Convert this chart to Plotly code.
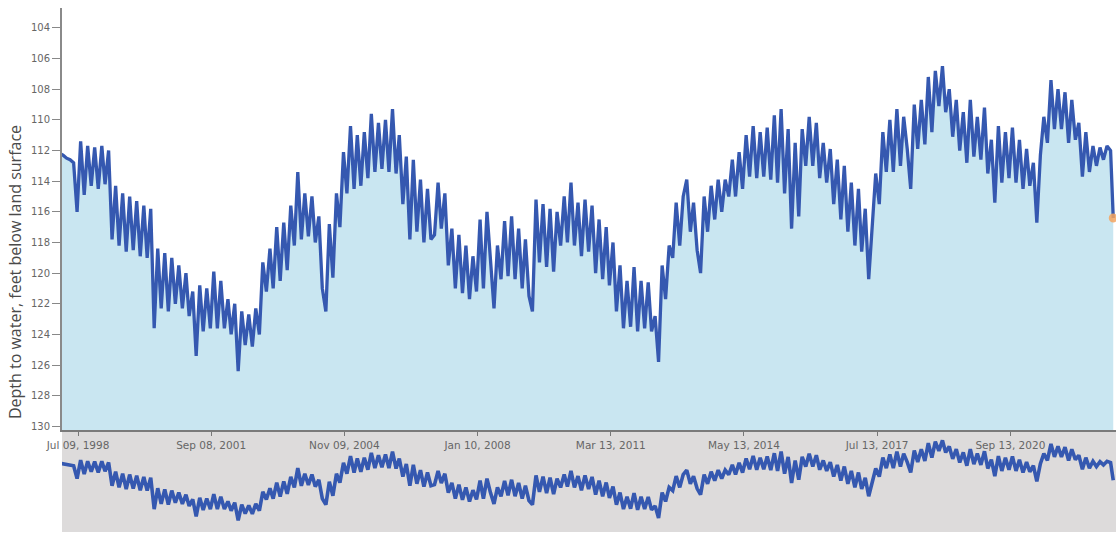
import pandas as pd
import plotly.graph_objects as go

# Monthly depth to water (feet below land surface), Feb 1998 .. Feb 2023
depth_ft = [
    # 1998 (Feb-Dec)
    112.2, 112.3, 112.5, 112.6, 112.8, 116.0, 111.4, 114.9, 111.7, 114.3, 111.8,
    # 1999
    114.5, 111.7, 114.2, 112.0, 117.8, 114.3, 118.2, 114.8, 118.6, 115.0, 118.5, 115.3,
    # 2000
    118.9, 115.6, 119.0, 115.8, 123.6, 118.4, 122.3, 118.7, 122.5, 119.0, 122.0, 119.5,
    # 2001
    122.3, 120.0, 122.8, 121.2, 125.4, 120.8, 123.8, 121.0, 123.6, 119.9, 123.6, 120.5,
    # 2002
    123.6, 121.7, 124.0, 122.0, 126.4, 122.5, 124.7, 122.7, 124.8, 122.3, 124.0, 119.3,
    # 2003
    121.2, 118.4, 121.0, 117.0, 120.5, 116.7, 119.8, 115.6, 118.2, 113.4, 117.8, 114.8,
    # 2004
    117.6, 115.0, 118.0, 116.3, 121.0, 122.5, 116.8, 120.3, 114.8, 117.0, 112.1, 114.8,
    # 2005
    110.4, 114.5, 111.0, 114.3, 110.8, 113.8, 109.6, 113.4, 110.2, 113.2, 110.0, 113.4,
    # 2006
    109.3, 113.5, 111.0, 115.5, 112.4, 117.8, 112.6, 117.3, 113.9, 118.0, 114.5, 117.8,
    # 2007
    117.5, 114.1, 117.1, 114.8, 119.5, 117.1, 121.0, 117.5, 121.3, 118.2, 121.7, 118.9,
    # 2008
    121.2, 116.5, 121.0, 116.0, 119.5, 122.3, 118.2, 120.4, 116.6, 120.2, 116.3, 120.4,
    # 2009
    117.1, 121.0, 117.8, 121.5, 122.5, 115.2, 119.3, 115.5, 119.6, 115.8, 119.9, 116.0,
    # 2010
    118.2, 115.0, 118.0, 114.1, 118.2, 115.4, 118.9, 115.2, 118.6, 115.6, 120.0, 116.5,
    # 2011
    120.4, 117.0, 120.8, 118.0, 122.5, 119.5, 123.6, 120.5, 123.5, 119.6, 123.8, 120.5,
    # 2012
    123.6, 120.6, 123.8, 122.8, 125.8, 119.5, 121.7, 118.2, 119.0, 115.4, 118.2, 115.0,
    # 2013
    113.9, 117.3, 115.4, 118.5, 120.0, 115.0, 117.3, 114.3, 116.5, 113.9, 116.0, 113.9,
    # 2014
    115.0, 112.6, 115.0, 112.1, 114.5, 111.0, 113.7, 110.4, 113.8, 110.8, 113.7, 110.5,
    # 2015
    113.9, 109.7, 114.1, 109.3, 114.8, 110.6, 117.1, 111.5, 116.3, 110.6, 113.0, 109.8,
    # 2016
    113.0, 110.2, 113.8, 111.5, 114.1, 111.9, 115.5, 112.6, 116.5, 113.0, 117.3, 114.1,
    # 2017
    118.2, 114.5, 118.6, 115.8, 120.4, 116.7, 113.5, 115.5, 110.8, 113.4, 110.0, 113.4,
    # 2018
    109.3, 113.0, 109.8, 111.9, 114.5, 109.0, 111.9, 108.7, 111.6, 107.2, 110.8, 106.8,
    # 2019
    109.1, 106.5, 109.5, 108.0, 111.1, 108.7, 112.0, 109.5, 112.8, 108.7, 112.4, 109.8,
    # 2020
    112.6, 109.2, 113.5, 111.3, 115.4, 110.4, 114.1, 110.8, 113.8, 110.5, 114.1, 111.3,
    # 2021
    114.5, 111.9, 114.3, 112.8, 116.7, 112.3, 109.8, 111.5, 107.4, 110.6, 108.0, 110.6,
    # 2022
    108.2, 111.5, 108.7, 111.3, 110.2, 113.7, 110.8, 113.4, 111.7, 113.0, 111.8, 112.6,
    # 2023 (Jan-Feb)
    111.7, 112.0,
]
months = pd.date_range("1998-02-01", periods=len(depth_ft), freq="MS")

last_date = "2023-02-24"
last_depth = 116.4

tick_dates = ["1998-07-09", "2001-09-08", "2004-11-09", "2008-01-10",
              "2011-03-13", "2014-05-13", "2017-07-13", "2020-09-13"]
y_ticks = list(range(104, 131, 2))

x_range = ["1998-02-20", "2023-03-20"]
y_range_main = [130.26, 102.7]
y_range_mini = [129.3, 104.0]
fill_floor = 131.0

dates_all = [d.strftime("%Y-%m-%d") for d in months] + [last_date]
depth_all = depth_ft + [last_depth]

LINE = "#3558b0"
FILL = "#c9e6f1"
GREY = "#dddbdb"

fig = go.Figure()
# baseline for the area fill (bottom of the chart)
fig.add_trace(go.Scatter(x=[dates_all[0], dates_all[-1]], y=[fill_floor, fill_floor],
                         mode="lines", line=dict(width=0, color=FILL),
                         hoverinfo="skip", showlegend=False, xaxis="x", yaxis="y"))
fig.add_trace(go.Scatter(x=dates_all, y=depth_all, mode="lines",
                         line=dict(color=LINE, width=3.3),
                         fill="tonexty", fillcolor=FILL,
                         showlegend=False, xaxis="x", yaxis="y"))
fig.add_trace(go.Scatter(x=[last_date], y=[last_depth], mode="markers",
                         marker=dict(color="#f4a460", size=9, opacity=0.85),
                         showlegend=False, xaxis="x", yaxis="y"))
# overview (mini) chart
fig.add_trace(go.Scatter(x=dates_all, y=depth_all, mode="lines",
                         line=dict(color=LINE, width=3.6),
                         showlegend=False, xaxis="x2", yaxis="y2"))

split = 0.194
fig.update_layout(
    width=1119, height=534,
    margin=dict(l=62, r=3, t=8, b=0),
    paper_bgcolor="white", plot_bgcolor="rgba(0,0,0,0)",
    xaxis=dict(range=x_range, type="date", tickvals=tick_dates, tickformat="%b %d, %Y",
               ticks="outside", ticklen=4, tickcolor="#777", tickwidth=1,
               showline=True, linecolor="#7a7a7a", linewidth=2,
               showgrid=False, zeroline=False, anchor="y",
               tickfont=dict(family="DejaVu Sans", size=10.5, color="#666")),
    yaxis=dict(range=y_range_main, domain=[split, 1], tickvals=y_ticks,
               ticks="outside", ticklen=8, tickcolor="#888", tickwidth=1,
               showline=True, linecolor="#8a8a8a", linewidth=2,
               showgrid=False, zeroline=False, anchor="x",
               tickfont=dict(family="DejaVu Sans", size=10, color="#666")),
    xaxis2=dict(range=x_range, type="date", matches="x", visible=False, anchor="y2"),
    yaxis2=dict(range=y_range_mini, domain=[0, split], visible=False, anchor="x2"),
    shapes=[dict(type="rect", xref="paper", yref="paper", x0=0, x1=1, y0=0, y1=split,
                 fillcolor=GREY, line=dict(width=0), layer="below")],
    annotations=[dict(text="Depth to water, feet below land surface",
                      xref="paper", yref="paper", x=-0.0446, y=0.496,
                      xanchor="center", yanchor="middle", textangle=-90,
                      showarrow=False,
                      font=dict(family="Open Sans", size=16, color="#4a4a4a"))],
)

fig.write_html("out.html", config={"displayModeBar": False})
